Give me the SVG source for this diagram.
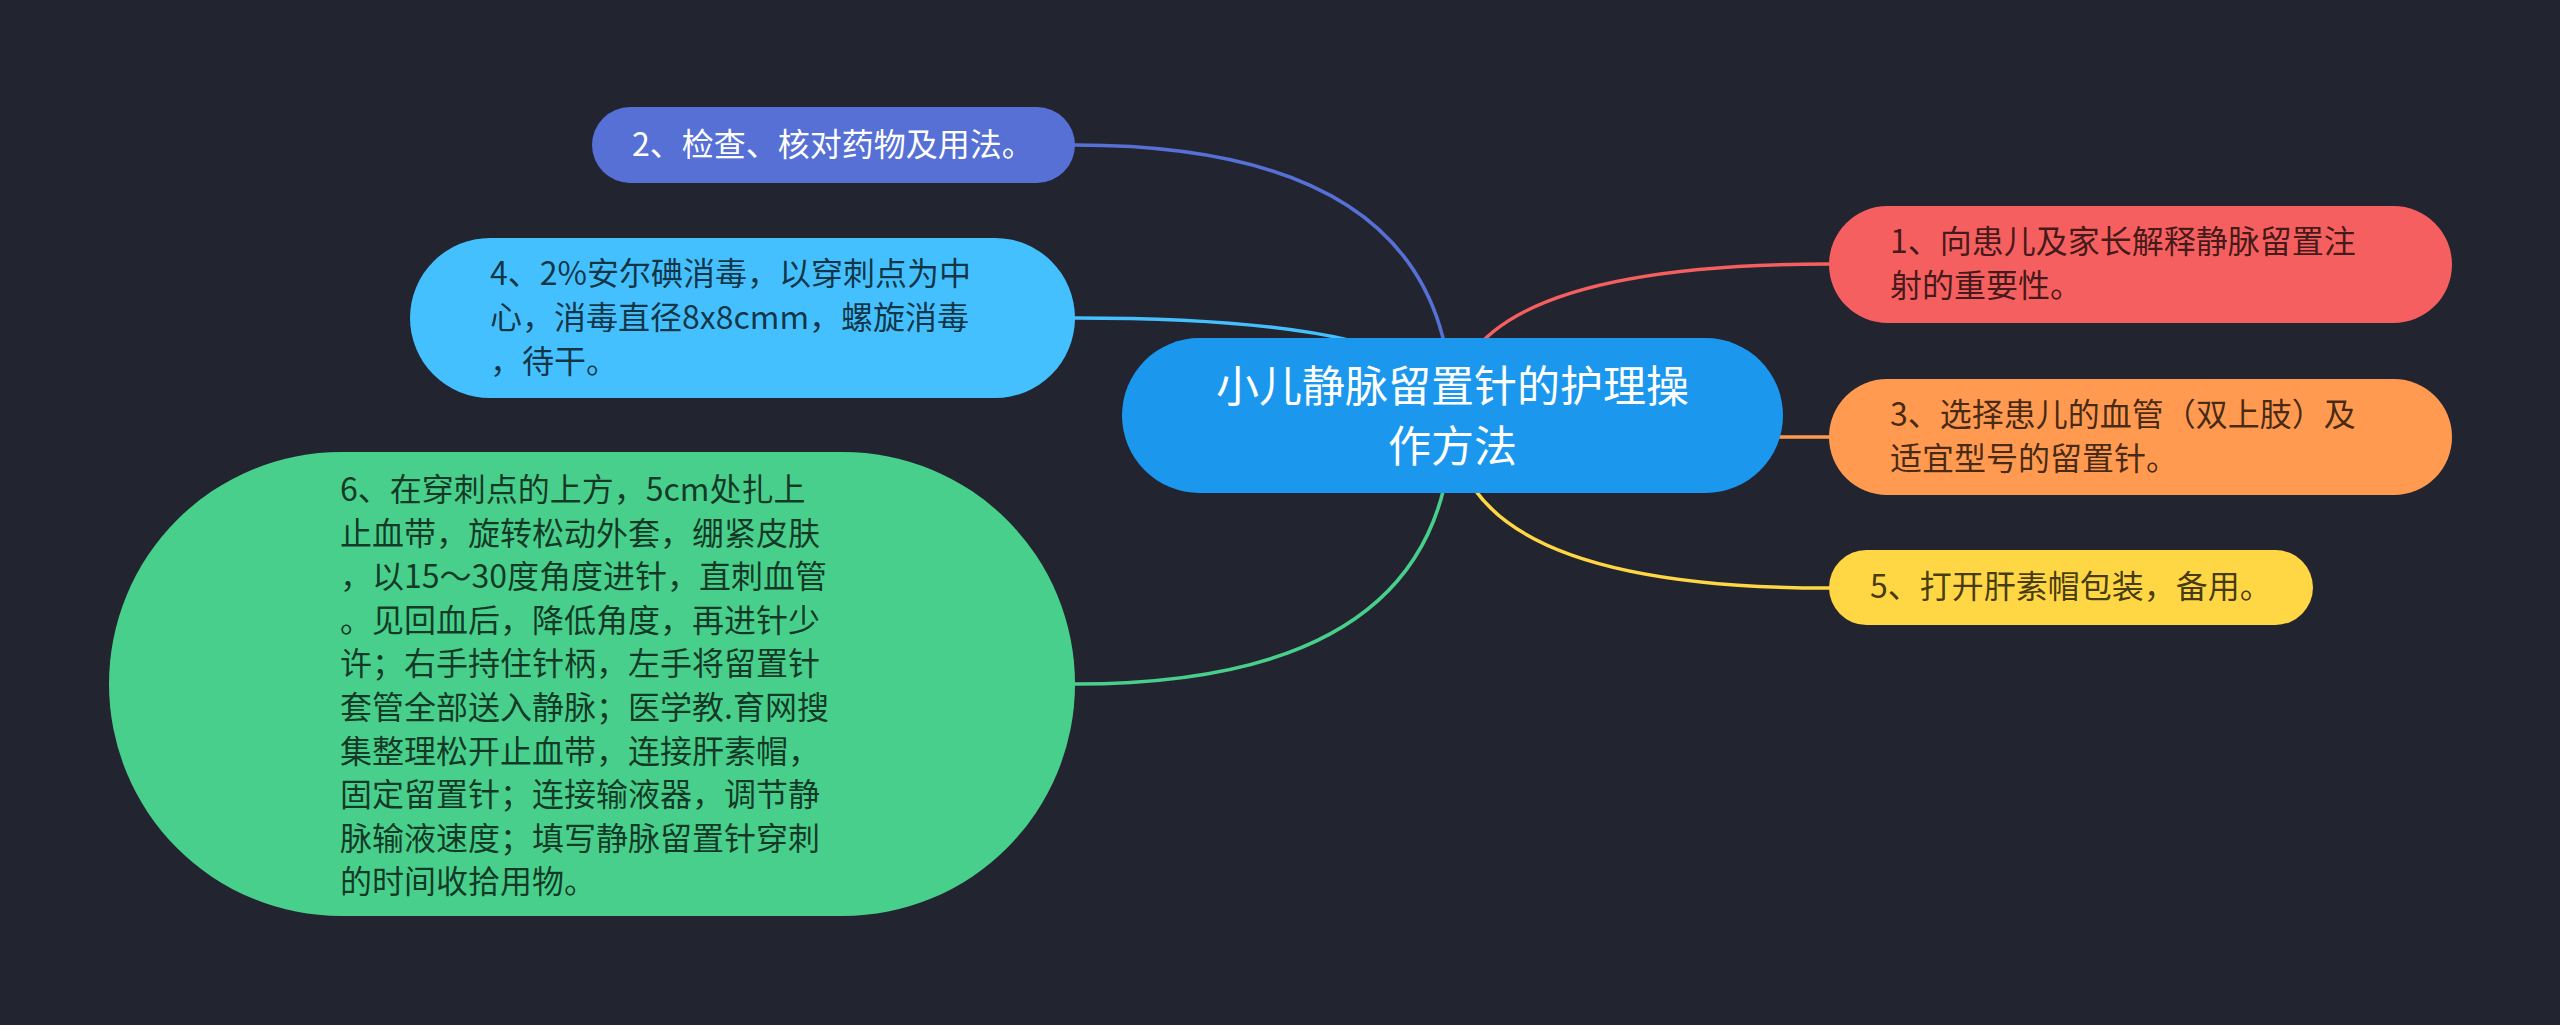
<svg xmlns="http://www.w3.org/2000/svg" width="2560" height="1025" viewBox="0 0 2560 1025">
  <style>
    text { font-family: "Noto Sans CJK SC", "Noto Sans", "Liberation Sans", sans-serif; font-size: 32px; }
    .dark { fill: #000; fill-opacity: 0.74; }
    .light { fill: #ffffff; }
    .conn { fill: none; stroke-width: 3.5; stroke-linecap: round; }
  </style>
  <rect width="2560" height="1025" fill="#222430"/>

  <g id="connectors">
    <path class="conn" stroke="#5670d6" d="M1452 415 Q1452 145 1075 145"/>
    <path class="conn" stroke="#44c0ff" d="M1452 415 Q1452 318 1075 318"/>
    <path class="conn" stroke="#48cf8b" d="M1452 415 Q1452 684 1075 684"/>
    <path class="conn" stroke="#f65f5f" d="M1452 415 Q1452 264 1829 264"/>
    <path class="conn" stroke="#ff9a50" d="M1452 415 Q1452 437 1829 437"/>
    <path class="conn" stroke="#ffd644" d="M1452 415 Q1452 588 1829 588"/>
  </g>

  <g id="root">
    <rect x="1122" y="338" width="661" height="155" rx="77.5" fill="#1b98ee"/>
    <text class="light" text-anchor="middle" style="font-size:43px"><tspan x="1452.5" y="401.5">小儿静脉留置针的护理操</tspan><tspan x="1452.5" y="461.5">作方法</tspan></text>
  </g>

  <g id="node2">
    <rect x="592" y="107" width="483" height="76" rx="38" fill="#5670d6"/>
    <text class="light" x="632" y="156">2、检查、核对药物及用法。</text>
  </g>

  <g id="node4">
    <rect x="410" y="238" width="665" height="160" rx="80" fill="#44c0ff"/>
    <text class="dark"><tspan x="490" y="285">4、2%安尔碘消毒，以穿刺点为中</tspan><tspan x="490" y="329">心，消毒直径8x8cmm，螺旋消毒</tspan><tspan x="490" y="373">，待干。</tspan></text>
  </g>

  <g id="node6">
    <rect x="109" y="452" width="966" height="464" rx="232" fill="#48cf8b"/>
    <text class="dark"><tspan x="340" y="501">6、在穿刺点的上方，5cm处扎上</tspan><tspan x="340" y="544.6">止血带，旋转松动外套，绷紧皮肤</tspan><tspan x="340" y="588.2">，以15～30度角度进针，直刺血管</tspan><tspan x="340" y="631.8">。见回血后，降低角度，再进针少</tspan><tspan x="340" y="675.4">许；右手持住针柄，左手将留置针</tspan><tspan x="340" y="719">套管全部送入静脉；医学教.育网搜</tspan><tspan x="340" y="762.6">集整理松开止血带，连接肝素帽，</tspan><tspan x="340" y="806.2">固定留置针；连接输液器，调节静</tspan><tspan x="340" y="849.8">脉输液速度；填写静脉留置针穿刺</tspan><tspan x="340" y="893.4">的时间收拾用物。</tspan></text>
  </g>

  <g id="node1">
    <rect x="1829" y="206" width="623" height="117" rx="58.5" fill="#f65f5f"/>
    <text class="dark"><tspan x="1890" y="253">1、向患儿及家长解释静脉留置注</tspan><tspan x="1890" y="297">射的重要性。</tspan></text>
  </g>

  <g id="node3">
    <rect x="1829" y="379" width="623" height="116" rx="58" fill="#ff9a50"/>
    <text class="dark"><tspan x="1890" y="426">3、选择患儿的血管（双上肢）及</tspan><tspan x="1890" y="470">适宜型号的留置针。</tspan></text>
  </g>

  <g id="node5">
    <rect x="1829" y="550" width="484" height="75" rx="37.5" fill="#ffd644"/>
    <text class="dark" x="1870" y="598">5、打开肝素帽包装，备用。</text>
  </g>
</svg>
